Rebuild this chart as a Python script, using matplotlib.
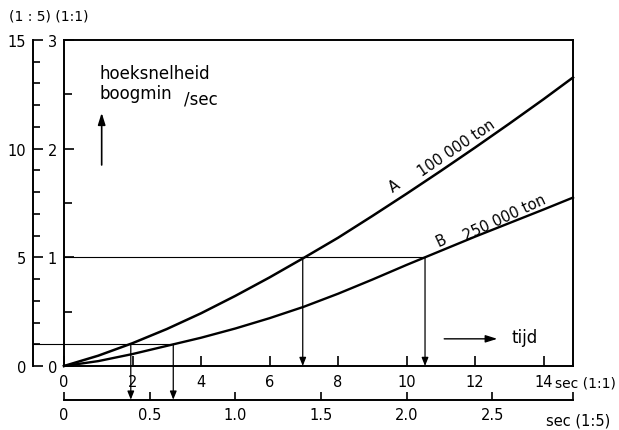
import numpy as np
import matplotlib
matplotlib.use('Agg')
import matplotlib.pyplot as plt
from matplotlib.ticker import MultipleLocator

# Curve data (time in sec at scale 1:1, angular speed in boogmin/sec)
t_a = [0, 1, 2, 3, 4, 5, 6, 7, 8, 9, 10, 11, 12, 13, 14, 14.86]
w_a = [0, 0.095, 0.21, 0.34, 0.485, 0.645, 0.815, 0.995, 1.18, 1.38, 1.585, 1.795, 2.01, 2.23, 2.455, 2.655]
t_b = [0, 1, 2, 3, 4, 5, 6, 7, 8, 9, 10, 11, 12, 13, 14, 14.86]
w_b = [0, 0.045, 0.11, 0.185, 0.26, 0.345, 0.44, 0.545, 0.665, 0.795, 0.93, 1.06, 1.19, 1.315, 1.44, 1.55]

# reading lines: low speed 0.2, high speed 1.0
low_w = 0.2
low_t = [1.95, 3.19]     # A, B reach 0.2
high_w = 1.0
high_t = [6.97, 10.54]   # A, B reach 1.0

xmax = 14.86
main_xticks = [0, 2, 4, 6, 8, 10, 12, 14]
main_yticks = [0, 1, 2, 3]
outer_yticks = [0, 5, 10, 15]
slow_xticks = [0, 0.5, 1.0, 1.5, 2.0, 2.5]
slow_labels = ['0', '0.5', '1.0', '1.5', '2.0', '2.5']

W, H = 619, 431
fig = plt.figure(figsize=(W / 100, H / 100), dpi=100)
plt.rcParams['font.family'] = ['DejaVu Sans']

def fx(px):
    return px / W

def fy(py):
    return 1 - py / H

L, R, T, B = 64, 573, 41, 367
ax = fig.add_axes([fx(L), fy(B), fx(R) - fx(L), fy(T) - fy(B)])
ax.set_xlim(0, xmax)
ax.set_ylim(0, 3.0)
for s in ax.spines.values():
    s.set_linewidth(1.4)

ax.set_xticks(main_xticks)
ax.set_xticklabels([str(v) for v in main_xticks])
ax.set_yticks(main_yticks)
ax.yaxis.set_minor_locator(MultipleLocator(0.5))
ax.tick_params(direction='in', length=7, width=1.2, labelsize=10.5, pad=5)
ax.tick_params(axis='y', which='minor', direction='in', length=6, width=1.2)
ax.tick_params(axis='x', pad=6)

# curves
ax.plot(t_a, w_a, color='black', lw=1.8, clip_on=False)
ax.plot(t_b, w_b, color='black', lw=1.7, clip_on=False)

# horizontal reading lines
ax.plot([-0.905, low_t[1]], [low_w, low_w], color='black', lw=0.8, clip_on=False)
ax.plot([0, high_t[1]], [high_w, high_w], color='black', lw=0.8)

# arrows down
arrow_kw = dict(arrowstyle='-|>,head_length=0.5,head_width=0.2', color='black', lw=0.9,
                shrinkA=0, shrinkB=0)
for t in low_t:
    ax.annotate('', xy=(t, -0.31), xytext=(t, low_w), arrowprops=arrow_kw,
                annotation_clip=False)
for t in high_t:
    ax.annotate('', xy=(t, 0.0), xytext=(t, high_w), arrowprops=arrow_kw,
                annotation_clip=False)

# curve labels
ax.text(9.65, 1.665, 'A', rotation=34, ha='center', va='center', fontsize=10.5)
ax.text(11.45, 2.015, '100 000 ton', rotation=34, ha='center', va='center', fontsize=10.5)
ax.text(11.0, 1.165, 'B', rotation=25, ha='center', va='center', fontsize=10.5)
ax.text(12.86, 1.375, '250 000 ton', rotation=25, ha='center', va='center', fontsize=10.5)

# axis annotations
ax.text(1.05, 2.70, 'hoeksnelheid', fontsize=12, ha='left', va='center')
ax.text(1.05, 2.51, 'boogmin', fontsize=12, ha='left', va='center')
ax.text(3.5, 2.46, '/sec', fontsize=12, ha='left', va='center')
ax.annotate('', xy=(1.1, 2.33), xytext=(1.1, 1.85),
            arrowprops=dict(arrowstyle='-|>,head_length=0.7,head_width=0.22',
                            color='black', lw=1.2, shrinkA=0, shrinkB=0))
ax.annotate('', xy=(12.65, 0.25), xytext=(11.1, 0.25),
            arrowprops=dict(arrowstyle='-|>,head_length=0.7,head_width=0.22',
                            color='black', lw=1.0, shrinkA=0, shrinkB=0))
ax.text(13.05, 0.265, 'tijd', fontsize=12, ha='left', va='center')

fig.text(fx(555), fy(384), 'sec (1:1)', fontsize=10, ha='left', va='center')

# outer axis, scale 1:5 for the speed
ax2 = fig.add_axes([fx(33), fy(B), 0.001, fy(T) - fy(B)])
ax2.set_ylim(0, 15)
for k in ['top', 'right', 'bottom']:
    ax2.spines[k].set_visible(False)
ax2.spines['left'].set_linewidth(1.4)
ax2.patch.set_visible(False)
ax2.set_xticks([])
ax2.set_yticks(outer_yticks)
ax2.yaxis.set_minor_locator(MultipleLocator(1))
ax2.tick_params(axis='y', which='major', direction='in', length=7, width=1.2,
                labelsize=10.5, pad=5)
ax2.tick_params(axis='y', which='minor', direction='in', length=5, width=1.2)

# lower axis, scale 1:5 for the time
ax3 = fig.add_axes([fx(L), fy(401), fx(R) - fx(L), 0.001])
ax3.set_xlim(0, xmax / 5)
for k in ['top', 'right', 'left']:
    ax3.spines[k].set_visible(False)
ax3.spines['bottom'].set_linewidth(1.4)
ax3.patch.set_visible(False)
ax3.set_yticks([])
ax3.set_xticks(slow_xticks + [xmax / 5])
ax3.set_xticklabels(slow_labels + [''])
ax3.tick_params(axis='x', direction='in', length=6, width=1.2, labelsize=10.5, pad=5)
fig.text(fx(546), fy(421), 'sec (1:5)', fontsize=10.5, ha='left', va='center')

fig.text(fx(9), fy(17), '(1 : 5) (1:1)', fontsize=10, ha='left', va='center')

fig.savefig('out.png', dpi=100)
